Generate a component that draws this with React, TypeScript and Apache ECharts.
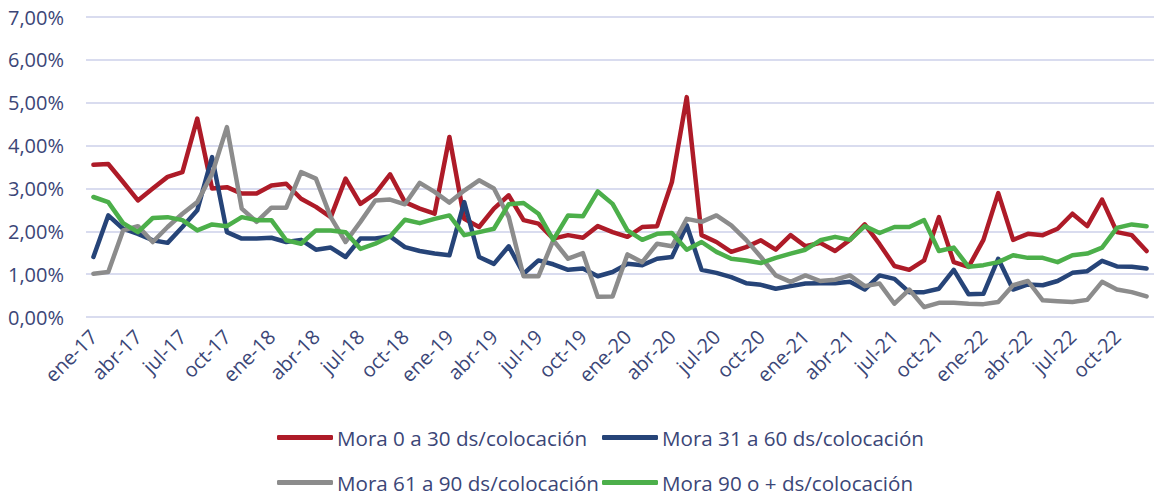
import React, { useEffect, useRef } from "react";
import * as echarts from "echarts";

const monthNames = ["ene", "feb", "mar", "abr", "may", "jun", "jul", "ago", "sep", "oct", "nov", "dic"];
const years = ["17", "18", "19", "20", "21", "22"];
const categories: string[] = [];
years.forEach((y) => monthNames.forEach((m) => categories.push(`${m}-${y}`)));

const seriesNames = [
  "Mora 0 a 30 ds/colocación",
  "Mora 31 a 60 ds/colocación",
  "Mora 61 a 90 ds/colocación",
  "Mora 90 o + ds/colocación",
];

const mora0a30 = [
  3.55, 3.57, 3.15, 2.72, 3.0, 3.27, 3.38, 4.63, 3.0, 3.03,
  2.88, 2.88, 3.07, 3.11, 2.76, 2.57, 2.33, 3.23, 2.64, 2.88,
  3.33, 2.68, 2.53, 2.41, 4.2, 2.29, 2.1, 2.53, 2.84, 2.26,
  2.18, 1.83, 1.91, 1.85, 2.12, 1.98, 1.87, 2.1, 2.12, 3.15,
  5.13, 1.91, 1.75, 1.52, 1.63, 1.79, 1.57, 1.91, 1.65, 1.73,
  1.54, 1.8, 2.16, 1.7, 1.19, 1.1, 1.32, 2.33, 1.28, 1.17,
  1.8, 2.89, 1.8, 1.94, 1.91, 2.06, 2.41, 2.12, 2.74, 1.98,
  1.91, 1.54,
];
const mora31a60 = [
  1.4, 2.37, 2.06, 1.94, 1.79, 1.73, 2.1, 2.49, 3.73, 1.98,
  1.83, 1.83, 1.85, 1.75, 1.8, 1.57, 1.62, 1.4, 1.83, 1.83,
  1.88, 1.63, 1.54, 1.48, 1.44, 2.68, 1.4, 1.24, 1.65, 1.01,
  1.32, 1.23, 1.1, 1.13, 0.95, 1.05, 1.24, 1.21, 1.36, 1.4,
  2.14, 1.1, 1.03, 0.93, 0.79, 0.75, 0.66, 0.72, 0.78, 0.79,
  0.79, 0.82, 0.64, 0.97, 0.89, 0.58, 0.58, 0.66, 1.1, 0.53,
  0.54, 1.36, 0.64, 0.76, 0.74, 0.84, 1.03, 1.07, 1.31, 1.18,
  1.17, 1.13,
];
const mora61a90 = [
  1.01, 1.05, 2.02, 2.12, 1.75, 2.1, 2.41, 2.68, 3.34, 4.43,
  2.53, 2.22, 2.55, 2.55, 3.38, 3.23, 2.33, 1.75, 2.22, 2.72,
  2.74, 2.63, 3.13, 2.92, 2.67, 2.95, 3.19, 3.0, 2.33, 0.95,
  0.95, 1.79, 1.36, 1.49, 0.47, 0.48, 1.46, 1.28, 1.71, 1.65,
  2.29, 2.22, 2.37, 2.14, 1.8, 1.4, 0.97, 0.82, 0.97, 0.84,
  0.87, 0.97, 0.72, 0.78, 0.31, 0.64, 0.23, 0.33, 0.33, 0.31,
  0.3, 0.35, 0.74, 0.84, 0.39, 0.37, 0.35, 0.4, 0.82, 0.64,
  0.58, 0.48,
];
const mora90mas = [
  2.8, 2.68, 2.19, 1.98, 2.31, 2.33, 2.26, 2.02, 2.16, 2.12,
  2.33, 2.26, 2.26, 1.79, 1.71, 2.02, 2.02, 1.98, 1.59, 1.71,
  1.88, 2.27, 2.19, 2.29, 2.37, 1.91, 1.98, 2.06, 2.63, 2.66,
  2.41, 1.8, 2.37, 2.35, 2.93, 2.64, 2.02, 1.8, 1.94, 1.96,
  1.57, 1.75, 1.52, 1.36, 1.32, 1.26, 1.38, 1.48, 1.57, 1.79,
  1.87, 1.8, 2.12, 1.96, 2.1, 2.1, 2.26, 1.54, 1.62, 1.17,
  1.21, 1.28, 1.44, 1.38, 1.38, 1.28, 1.44, 1.48, 1.62, 2.08,
  2.16, 2.12,
];

const seriesData = [mora0a30, mora31a60, mora61a90, mora90mas];
const colors = ["#AE1B28", "#264478", "#8C8C8C", "#4CAF4A"];

const TEXT = "#3B4677";
const FONT = "'Open Sans', 'Noto Sans', sans-serif";

export default function App() {
  const ref = useRef<HTMLDivElement>(null);
  useEffect(() => {
    if (!ref.current) return;
    const chart = echarts.init(ref.current, undefined, { renderer: "svg" });
    const legendPos = [
      { left: 277, top: 427 },
      { left: 602, top: 427 },
      { left: 277, top: 472 },
      { left: 602, top: 472 },
    ];
    chart.setOption({
      animation: false,
      backgroundColor: "#ffffff",
      grid: { left: 86, right: -7, top: 17, bottom: 180, containLabel: false },
      legend: seriesNames.map((n, i) => ({
        data: [n],
        left: legendPos[i].left,
        top: legendPos[i].top,
        icon: "roundRect",
        itemWidth: 56,
        itemHeight: 5,
        padding: 0,
        textStyle: { color: TEXT, fontSize: 20.6, fontFamily: FONT, padding: [0, 0, 0, -1] },
      })),
      xAxis: {
        type: "category",
        data: categories,
        boundaryGap: true,
        axisLine: { show: false },
        axisTick: { show: false },
        axisLabel: {
          interval: 2,
          rotate: 45,
          margin: 16,
          color: TEXT,
          fontSize: 20,
          fontFamily: FONT,
        },
      },
      yAxis: {
        type: "value",
        min: 0,
        max: 7,
        interval: 1,
        axisLine: { show: false },
        axisTick: { show: false },
        axisLabel: {
          margin: 22,
          color: TEXT,
          fontSize: 20,
          fontFamily: FONT,
          formatter: (v: number) => v.toFixed(2).replace(".", ",") + "%",
        },
        splitLine: { lineStyle: { color: "#D9DCEF", width: 2 } },
      },
      series: seriesNames.map((n, i) => ({
        name: n,
        type: "line",
        data: seriesData[i],
        symbol: "none",
        showSymbol: false,
        color: colors[i],
        lineStyle: { color: colors[i], width: 4.5, cap: "round", join: "round" },
        itemStyle: { color: colors[i] },
      })),
    });
    return () => chart.dispose();
  }, []);
  return (
    <div
      ref={ref}
      style={{ position: "fixed", left: 0, top: 0, width: 1154, height: 497, background: "#fff" }}
    />
  );
}
